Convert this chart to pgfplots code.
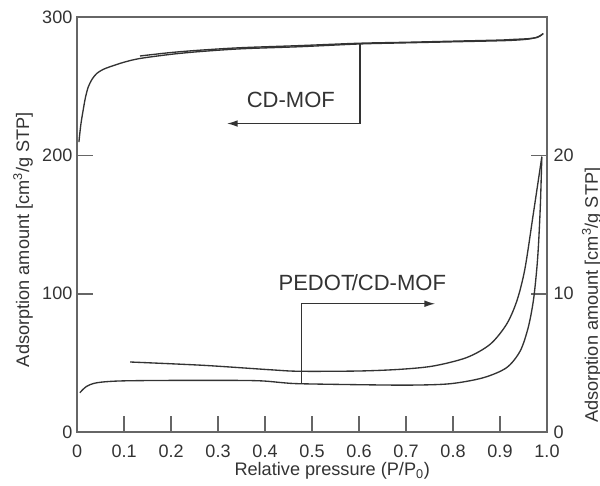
\documentclass[border=0pt]{standalone}
\usepackage{pgfplots}
\pgfplotsset{compat=1.18}
\usetikzlibrary{arrows.meta}
\usepackage{fontspec}
\setmainfont{Liberation Sans}
\definecolor{ink}{HTML}{333333}
\definecolor{axc}{HTML}{666666}
\begin{document}
\begin{tikzpicture}[font=\fontsize{13.5}{15}\selectfont]
\begin{axis}[
  name=main,
  scale only axis, width=352pt, height=311pt,
  xmin=0, xmax=1, ymin=0, ymax=300,
  axis line style={axc, line width=1.1pt},
  every tick/.style={axc, line width=1.1pt},
  tick align=inside, major tick length=12pt,
  xtick={0,0.1,...,1.0},
  xticklabels={0,0.1,0.2,0.3,0.4,0.5,0.6,0.7,0.8,0.9,1.0},
  ytick={0,100,200,300},
  ytick pos=left, xtick pos=bottom,
  tick label style={text=ink},
  xticklabel style={anchor=center, yshift=-14.2pt},
  /pgf/number format/assume math mode=true,
  xlabel={Relative pressure (P/P\textsubscript{0})},
  ylabel={Adsorption amount [cm\textsuperscript{3}/g STP]},
  label style={text=ink, font=\fontsize{13.6}{15}\selectfont},
  xlabel style={at={([yshift=-29.2pt]rel axis cs:0.543,0)}, anchor=center},
  ylabel style={at={([xshift=-40.4pt]rel axis cs:0,0.464)}, anchor=center},
  clip=false,
]
% CD-MOF adsorption
\addplot[ink, line width=1pt, smooth] coordinates {
(0.004,209.6) (0.008,222) (0.013,232.6) (0.018,242) (0.024,249.5) (0.032,255) (0.042,259.2) (0.055,262) (0.07,264) (0.1,267.3) (0.134,270) (0.2,273) (0.262,275) (0.35,277) (0.474,278.5) (0.602,280.5) (0.7,281.3) (0.794,282) (0.9,282.8) (0.936,283.3) (0.96,284) (0.975,285) (0.985,286.3) (0.992,288)};
% CD-MOF desorption
\addplot[ink, line width=1pt, smooth] coordinates {
(0.992,288) (0.98,285.3) (0.96,284.3) (0.93,283.8) (0.9,283.3) (0.8,282.5) (0.7,281.7) (0.6,281) (0.474,279.3) (0.35,277.8) (0.262,276) (0.2,274.3) (0.134,271.8)};
% annotations
\draw[ink, line width=1pt] (axis cs:0.602,280.5) -- (axis cs:0.602,223) -- (axis cs:0.34,223);
\draw[ink, line width=1pt, -{Latex[length=8pt,width=5pt]}] (axis cs:0.4,223) -- (axis cs:0.319,223);
\node[text=ink, font=\fontsize{16.5}{18}\selectfont] at (axis cs:0.455,240) {CD-MOF};
\draw[ink, line width=1pt] (axis cs:0.478,35) -- (axis cs:0.478,92.8) -- (axis cs:0.7,92.8);
\draw[ink, line width=1pt, -{Latex[length=8pt,width=5pt]}] (axis cs:0.7,92.8) -- (axis cs:0.762,92.8);
\node[text=ink, font=\fontsize{16.5}{18}\selectfont] at (axis cs:0.607,108) {PEDOT\kern-2pt/CD-MOF};
\end{axis}
\begin{axis}[
  scale only axis, width=352pt, height=311pt,
  xmin=0, xmax=1, ymin=0, ymax=30,
  axis x line=none, axis y line*=right,
  axis line style={axc, line width=1.1pt},
  every tick/.style={axc, line width=1.1pt},
  tick align=inside, major tick length=12pt,
  ytick={0,10,20},
  tick label style={text=ink},
  yticklabel style={xshift=1.5pt},
  /pgf/number format/assume math mode=true,
  ylabel={Adsorption amount [cm\textsuperscript{3}/g STP]},
  ylabel style={text=ink, font=\fontsize{13.6}{15}\selectfont, at={([xshift=33.5pt]rel axis cs:1,0.33)}, anchor=center},
]
% PEDOT/CD-MOF adsorption
\addplot[ink, line width=1pt, smooth] coordinates {
(0.006,2.85) (0.02,3.3) (0.042,3.57) (0.091,3.7) (0.198,3.74) (0.34,3.74) (0.396,3.7) (0.439,3.57) (0.474,3.5) (0.6,3.43) (0.709,3.4) (0.794,3.5) (0.864,3.93) (0.914,4.66) (0.943,5.87) (0.96,7.56) (0.971,9.5) (0.978,11.7) (0.982,13.6) (0.986,16.5) (0.989,19.9)};
% PEDOT/CD-MOF desorption
\addplot[ink, line width=1pt, smooth] coordinates {
(0.989,19.9) (0.971,15.8) (0.953,11.8) (0.936,9.5) (0.914,7.8) (0.879,6.35) (0.829,5.39) (0.758,4.78) (0.687,4.54) (0.6,4.42) (0.474,4.4) (0.411,4.51) (0.269,4.83) (0.113,5.07)};
\end{axis}
\pgfresetboundingbox
\path[use as bounding box] ([shift={(-57.7pt,-39.7pt)}]main.south west) rectangle ([shift={(39.7pt,12.7pt)}]main.north east);
\end{tikzpicture}
\end{document}
